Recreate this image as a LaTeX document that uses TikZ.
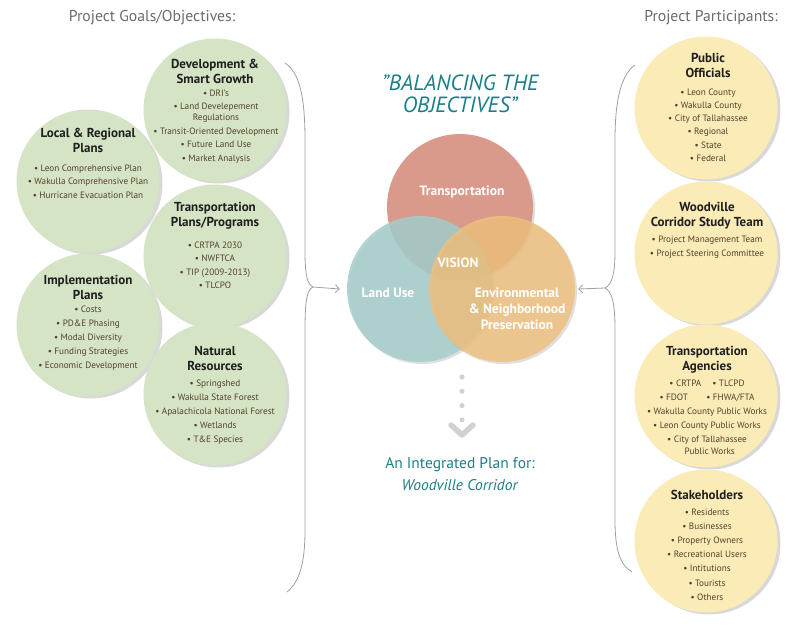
\documentclass[tikz,border=0pt]{standalone}
\usepackage{fontspec}
\setmainfont{PT Sans}
\usetikzlibrary{arrows.meta,shadows}
\definecolor{greenfill}{RGB}{213,228,196}
\definecolor{yellowfill}{RGB}{250,235,183}
\definecolor{itemcol}{RGB}{82,64,42}
\definecolor{headgray}{RGB}{105,107,110}
\definecolor{tealtxt}{RGB}{26,128,136}
\definecolor{transcol}{RGB}{217,154,139}
\definecolor{landcol}{RGB}{165,205,202}
\definecolor{envcol}{RGB}{240,192,125}
\definecolor{bracecol}{RGB}{160,160,160}
\tikzset{
  bubble/.style={circle, minimum size=143pt, inner sep=0pt,
    drop shadow={shadow xshift=3pt, shadow yshift=-2pt, opacity=0.3}},
  goal/.style={bubble, fill=greenfill},
  part/.style={bubble, fill=yellowfill},
  ctitle/.style={font=\bfseries\fontsize{13}{15}\selectfont, align=center, text=black!88, inner sep=0pt},
  citems/.style={font=\fontsize{9.2}{13.5}\selectfont, align=center, text=itemcol, inner sep=0pt},
  header/.style={font=\fontsize{15.7}{18}\selectfont, text=headgray, inner sep=0pt},
  venn/.style={circle, minimum size=146pt, inner sep=0pt},
  vlabel/.style={font=\bfseries\fontsize{13.5}{16}\selectfont, text=white, align=center, inner sep=0pt},
  brace/.style={draw=bracecol, line width=0.8pt},
  feed/.style={draw=bracecol, line width=0.8pt, -{Straight Barb[length=4pt,width=8pt]}},
}
\begin{document}
\begin{tikzpicture}[x=1pt,y=-1pt]
\useasboundingbox (0,0) rectangle (800,634);
\fill[white] (0,0) rectangle (800,634);

% headers
\node[header] (hgoals) at (152,18) {Project Goals/Objectives:};
\node[header] (hpart) at (711,18) {Project Participants:};

% left: goal circles
\node[goal] (g2) at (88,181) {};
\node[goal] (g4) at (88,325) {};
\node[goal] (g1) at (215,110) {};
\node[goal] (g3) at (215,256) {};
\node[goal] (g5) at (215,394) {};

\node[ctitle] (g1t) at (215,71.5) {Development \&\\Smart Growth};
\node[citems] (g1i) at (216,126.5) {• DRI's\\• Land Develepement\\[-2.5pt]Regulations\\• Transit-Oriented Development\\• Future Land Use\\• Market Analysis};

\node[ctitle] (g2t) at (88,140.5) {Local \& Regional\\Plans};
\node[citems] (g2i) at (88,181.5) {• Leon Comprehensive Plan\\• Wakulla Comprehensive Plan\\• Hurricane Evacuation Plan};

\node[ctitle] (g3t) at (215,215.5) {Transportation\\Plans/Programs};
\node[citems] (g3i) at (215,265.5) {• CRTPA 2030\\• NWFTCA\\• TIP (2009-2013)\\• TLCPO};

\node[ctitle] (g4t) at (88,287.5) {Implementation\\Plans};
\node[citems,font=\fontsize{9.2}{14}\selectfont] (g4i) at (88,338) {• Costs\\• PD\&E Phasing\\• Modal Diversity\\• Funding Strategies\\• Economic Development};

\node[ctitle] (g5t) at (215,359) {Natural\\Resources};
\node[citems,font=\fontsize{9.2}{14}\selectfont] (g5i) at (215,412) {• Springshed\\• Wakulla State Forest\\• Apalachicola National Forest\\• Wetlands\\• T\&E Species};

% right: participant circles
\node[part] (p1) at (706,108) {};
\node[part] (p2) at (706,253) {};
\node[part] (p3) at (706,396) {};
\node[part] (p4) at (706,541) {};

\node[ctitle] (p1t) at (708,65.5) {Public\\Officials};
\node[citems,font=\fontsize{9.2}{13.2}\selectfont] (p1i) at (708,125) {• Leon County\\• Wakulla County\\• City of Tallahassee\\• Regional\\• State\\• Federal};

\node[ctitle] (p2t) at (707,215.5) {Woodville\\Corridor Study Team};
\node[citems] (p2i) at (707,247) {• Project Management Team\\• Project Steering Committee};

\node[ctitle] (p3t) at (707,359.5) {Transportation\\Agencies};
\node[citems,font=\fontsize{9.2}{14}\selectfont] (p3i) at (707,417.5) {• CRTPA\hspace{1.2em}• TLCPD\\• FDOT\hspace{2em}• FHWA/FTA\\• Wakulla County Public Works\\• Leon County Public Works\\• City of Tallahassee\\[-2.5pt]\hspace{0.6em}Public Works};

\node[ctitle] (p4t) at (707,495) {Stakeholders};
\node[citems,font=\fontsize{9.2}{14.2}\selectfont] (p4i) at (707,554.5) {• Residents\\• Businesses\\• Property Owners\\• Recreational Users\\• Intitutions\\• Tourists\\• Others};

% braces
\coordinate (lbtop) at (285,63);
\coordinate (lbtip) at (313,287);
\coordinate (lbbot) at (287,592);
\draw[brace] (lbtop) .. controls (299,72) and (305,95) .. (305,140)
  -- (305,250) .. controls (305,275) and (307,284) .. (lbtip)
  .. controls (307,290) and (305,300) .. (305,330)
  -- (305,530) .. controls (305,565) and (299,582) .. (lbbot);

\coordinate (rbtop) at (635,65);
\coordinate (rbtip) at (605,288);
\coordinate (rbbot) at (632,572);
\draw[brace] (rbtop) .. controls (621,75) and (615,100) .. (615,140)
  -- (615,250) .. controls (615,275) and (612,284) .. (rbtip)
  .. controls (612,292) and (615,302) .. (615,330)
  -- (615,520) .. controls (615,550) and (620,565) .. (rbbot);

% title
\node[font=\itshape\fontsize{22}{22}\selectfont, text=tealtxt, align=center, inner sep=0pt] (bal) at (460,94) {"BALANCING THE\\OBJECTIVES"};

% venn
\node[venn, fill=transcol, drop shadow={shadow xshift=2pt, shadow yshift=-2pt, opacity=0.25}] (vt) at (460,207) {};
\node[venn, fill=landcol, fill opacity=0.85, drop shadow={shadow xshift=2pt, shadow yshift=-2pt, opacity=0.25}] (vl) at (420,289) {};
\node[venn, fill=envcol, fill opacity=0.82, drop shadow={shadow xshift=2pt, shadow yshift=-2pt, opacity=0.25}] (ve) at (502,289) {};
\node[vlabel] (vtl) at (462,192) {Transportation};
\node[vlabel] (vvis) at (458,263) {VISION};
\node[vlabel] (vll) at (388,293) {Land Use};
\node[vlabel] (vel) at (517,309) {Environmental\\\& Neighborhood\\Preservation};

% feed arrows
\draw[feed] (lbtip) -- ([xshift=-7pt]vl.west);
\draw[feed] (rbtip) -- ([xshift=3pt]ve.east);

% dotted down-connector
\coordinate (dtop) at (462,377);
\coordinate (dbot) at (462,420);
\draw[line width=5pt, line cap=round, dash pattern=on 0pt off 14.3pt, black!18] (dtop) -- (dbot);
\coordinate (chev) at (462,435);
\draw[line width=5.5pt, black!18, line cap=round, line join=round] (451,425) -- (chev) -- (473,425);

% result
\node[font=\fontsize{15.5}{22}\selectfont, text=tealtxt, align=center, inner sep=0pt] (res) at (460,474) {An Integrated Plan for:\\\textit{Woodville Corridor}};
\end{tikzpicture}
\end{document}
